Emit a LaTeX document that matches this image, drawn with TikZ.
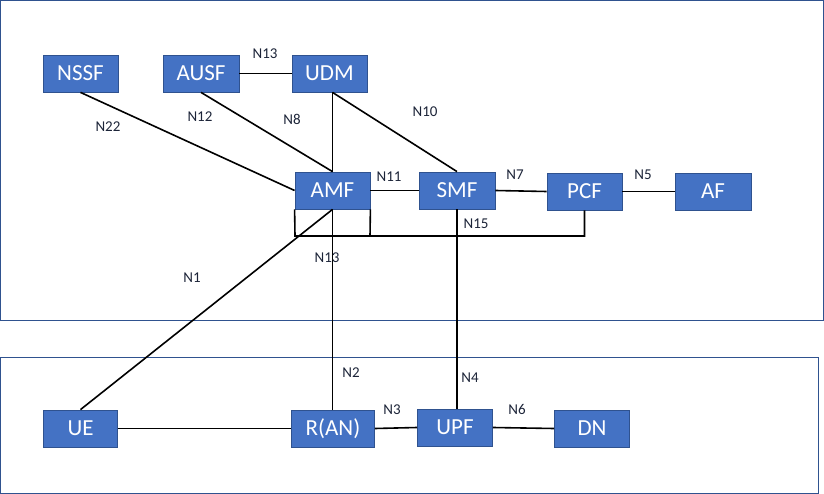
\documentclass[tikz,border=0pt]{standalone}
\usepackage{fontspec}
\setmainfont{Carlito}
\definecolor{boxfill}{HTML}{4472C4}
\definecolor{boxline}{HTML}{2F528F}
\definecolor{lbl}{HTML}{1C2438}
\begin{document}
\begin{tikzpicture}[x=1pt,y=-1pt,
  nf/.style={draw=boxline,fill=boxfill,text=white,line width=0.8pt,minimum width=75pt,minimum height=37pt,inner sep=0pt,font=\fontsize{23}{23}\selectfont},
  nfb/.style={nf},
  lab/.style={text=lbl,inner sep=0pt,font=\fontsize{15}{15}\selectfont},
  conn/.style={line width=1.6pt,black},
  frame/.style={draw=boxline,line width=1pt}]
\useasboundingbox (0,0) rectangle (824,494);
\draw[frame] (0.5,0.5) rectangle (823,320);
\draw[frame] (0.5,357) rectangle (818,493);
% top nodes
\node[nf] (nssf) at (80.5,73.5) {NSSF};
\node[nf,minimum width=76pt] (ausf) at (201,73.5) {AUSF};
\node[nf] (udm) at (329.5,73.5) {UDM};
\node[nf] (amf) at (332.5,190.5) {AMF};
\node[nf,minimum width=76pt] (smf) at (457,190.5) {SMF};
\node[nf] (pcf) at (584.5,191.5) {PCF};
\node[nf,minimum width=76pt] (af) at (713,191.5) {AF};
% bottom nodes
\node[nfb,minimum width=74pt] (ue) at (80.5,428.5) {UE};
\node[nfb,minimum width=83pt] (ran) at (333,428.5) {R(AN)};
\node[nfb] (upf) at (455,427.5) {UPF};
\node[nfb] (dn) at (592,428.5) {DN};
% connectors
\draw[conn] (ausf.east) -- (udm.west);
\draw[conn] (nssf.south) -- (amf.west);
\draw[conn] (ausf.south) -- (amf.north);
\coordinate (udmb) at (amf.north |- udm.south);
\draw[conn] (udmb) -- (amf.north);
\draw[conn] (udmb) -- (smf.north);
\draw[conn] (amf.east) -- (smf.west);
\draw[conn] (smf.east) -- (pcf.west);
\draw[conn] (pcf.east) -- (af.west);
\coordinate (bl) at (295,236);
\coordinate (br) at (370,236);
\draw[conn] (amf.south west) -- (bl) -- (pcf.south |- bl) -- (pcf.south);
\draw[conn] (amf.south east) -- (br);
\draw[conn] (amf.south) -- (amf.south |- ran.north);
\draw[conn] (smf.south) -- (smf.south |- upf.north);
\draw[conn] (ue.north) -- (amf.south);
\draw[conn] (ue.east) -- (ran.west);
\draw[conn] (ran.east) -- (upf.west);
\draw[conn] (upf.east) -- (dn.west);
% labels
\node[lab] (l13) at (265,54) {N13};
\node[lab] (l22) at (108,127) {N22};
\node[lab] (l12) at (200,117) {N12};
\node[lab] (l8) at (292,119) {N8};
\node[lab] (l10) at (425,112) {N10};
\node[lab] (l11) at (389,177) {N11};
\node[lab] (l7) at (515,175) {N7};
\node[lab] (l5) at (643,175) {N5};
\node[lab] (l15) at (476,224) {N15};
\node[lab] (l13b) at (327,258) {N13};
\node[lab] (l1) at (192,278) {N1};
\node[lab] (l2) at (351,373) {N2};
\node[lab] (l4) at (470,378) {N4};
\node[lab] (l3) at (392,410) {N3};
\node[lab] (l6) at (517,409) {N6};
\end{tikzpicture}
\end{document}
